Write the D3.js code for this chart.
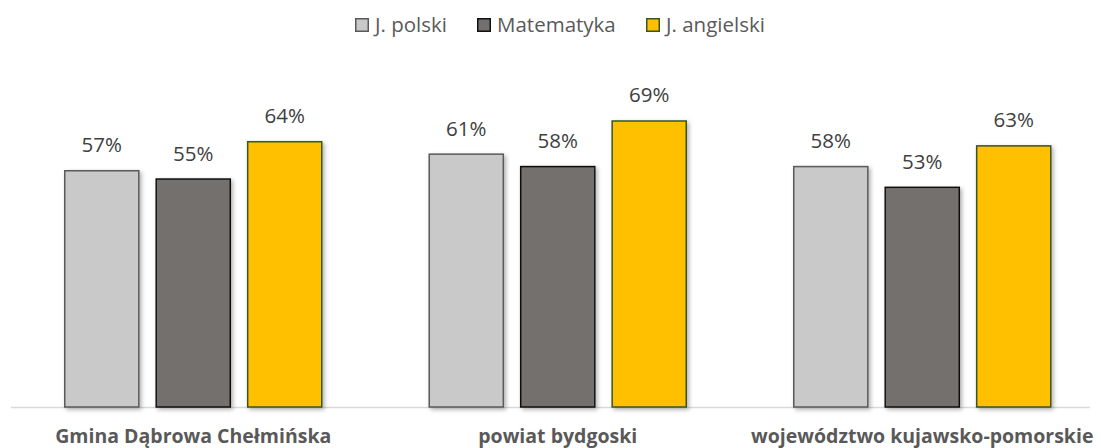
<!DOCTYPE html>
<html><head><meta charset="utf-8">
<script src="https://cdn.jsdelivr.net/npm/d3@7"></script>
<style>body{margin:0;background:#fff;} svg{display:block;}</style>
</head><body>
<svg id="chart" width="1101" height="448"></svg>
<script>
const categories = ["Gmina Dąbrowa Chełmińska", "powiat bydgoski", "województwo kujawsko-pomorskie"];
const seriesNames = ["J. polski", "Matematyka", "J. angielski"];
const jPolski = [0.57, 0.61, 0.58];
const matematyka = [0.55, 0.58, 0.53];
const jAngielski = [0.64, 0.69, 0.63];
const seriesValues = [jPolski, matematyka, jAngielski];
const fills = ["#C9C9C9", "#736F6E", "#FFC000"];
const strokes = ["#5A5A5A", "#111111", "#375623"];
const FONT = "'Open Sans', Lato, sans-serif";

const svg = d3.select("#chart");
const defs = svg.append("defs");
const f = defs.append("filter").attr("id","sh").attr("x","-20%").attr("y","-20%").attr("width","150%").attr("height","150%");
f.append("feDropShadow").attr("dx",2).attr("dy",2).attr("stdDeviation",2).attr("flood-color","#000").attr("flood-opacity",0.3);

const x0 = d3.scaleBand().domain(categories).range([11, 1104.5]).paddingInner(0).paddingOuter(0);
const x1 = d3.scaleBand().domain(seriesNames).range([0, 257]).paddingInner(0.19).paddingOuter(0);
const y = d3.scaleLinear().domain([0, 1]).range([407, -7.5]);
const groupOffset = (x0.bandwidth() - 257) / 2;

// axis line
svg.append("line").attr("x1", 11).attr("x2", 1090).attr("y1", y(0)+0.5).attr("y2", y(0)+0.5)
  .attr("stroke", "#D9D9D9").attr("stroke-width", 1.5);

const groups = svg.selectAll("g.grp").data(categories).join("g").attr("class","grp")
  .attr("transform", d => `translate(${x0(d) + groupOffset},0)`);

groups.each(function(cat, ci) {
  const g = d3.select(this);
  seriesNames.forEach((s, si) => {
    const v = seriesValues[si][ci];
    g.append("rect").attr("x", x1(s)).attr("y", y(v)).attr("width", x1.bandwidth()).attr("height", y(0) - y(v))
      .attr("fill", fills[si]).attr("stroke", strokes[si]).attr("stroke-width", 1.5).attr("filter","url(#sh)");
    g.append("text").attr("x", x1(s) + x1.bandwidth()/2).attr("y", y(v) - 18.5)
      .attr("text-anchor","middle").attr("font-family",FONT).attr("font-size", 20.5)
      .attr("fill","#404040").text(Math.round(v*100) + "%");
  });
});

// category labels
svg.selectAll("text.cat").data(categories).join("text").attr("class","cat")
  .attr("x", d => x0(d) + x0.bandwidth()/2).attr("y", 443).attr("text-anchor","middle")
  .attr("font-family",FONT).attr("font-weight","bold").attr("font-size", 19.5)
  .attr("fill","#595959").text(d => d);

// legend
const legendX = [355, 477, 646];
const lg = svg.selectAll("g.leg").data(seriesNames).join("g").attr("class","leg")
  .attr("transform", (d,i) => `translate(${legendX[i]},18)`);
lg.append("rect").attr("x",0.75).attr("y",0.75).attr("width",12.5).attr("height",12.5)
  .attr("fill",(d,i)=>fills[i]).attr("stroke",(d,i)=>strokes[i]).attr("stroke-width",1.5);
lg.append("text").attr("x",20).attr("y",13.5).attr("font-family",FONT)
  .attr("font-size",20.5).attr("fill","#595959").text(d=>d);
</script>
</body></html>
